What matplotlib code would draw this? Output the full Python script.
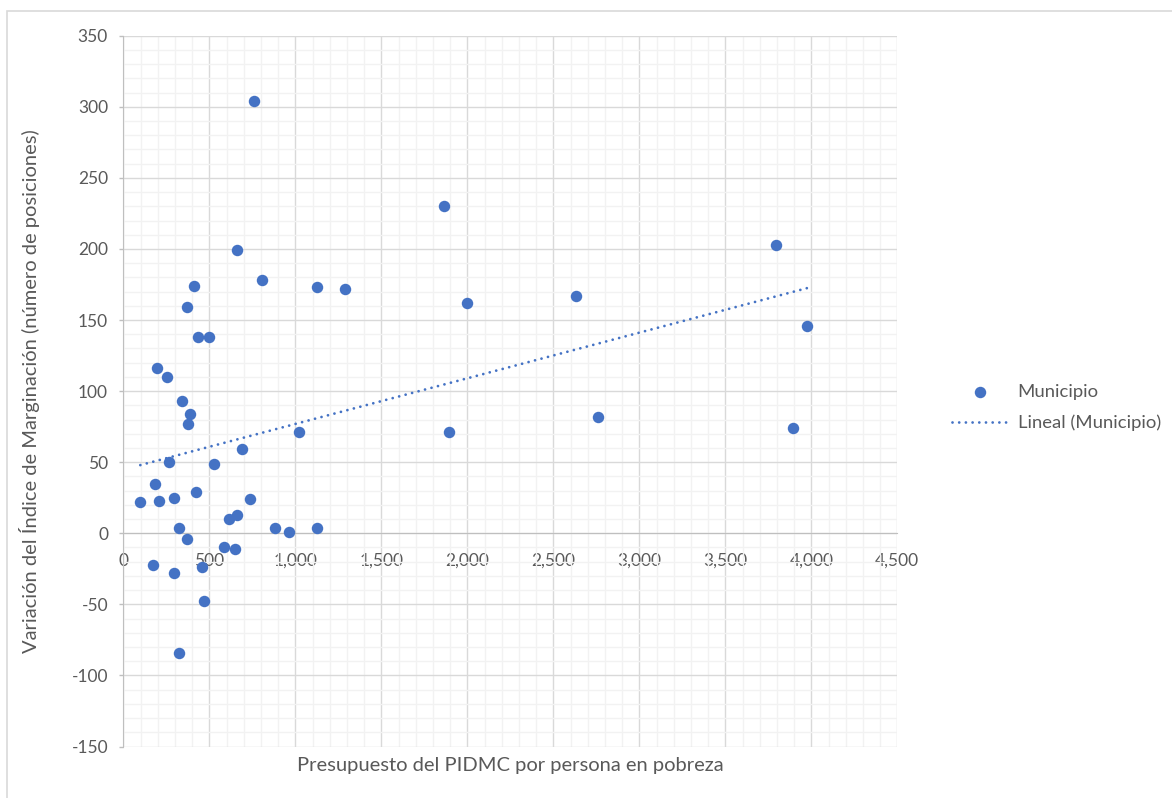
import numpy as np
import matplotlib
matplotlib.use("Agg")
import matplotlib.pyplot as plt
from matplotlib.ticker import MultipleLocator, FuncFormatter
from matplotlib.patches import Rectangle

plt.rcParams['font.family'] = ['Lato', 'DejaVu Sans']

# Data
presupuesto = [758, 1865, 3794, 659, 806, 409, 370, 1126, 1291, 2000,
               2630, 3977, 436, 498, 196, 254, 340, 388, 378, 2759,
               3892, 1020, 1894, 690, 264, 526, 186, 421, 99, 206,
               293, 738, 613, 663, 322, 884, 1126, 963, 370, 584,
               651, 174, 293, 458, 467, 322]
variacion = [304, 230, 203, 199, 178, 174, 159, 173, 172, 162,
             167, 146, 138, 138, 116, 110, 93, 84, 77, 82,
             74, 71, 71, 59, 50, 49, 35, 29, 22, 23,
             25, 24, 10, 13, 4, 4, 4, 1, -4, -10,
             -11, -22, -28, -24, -48, -84]
serie_nombre = "Municipio"
tendencia_nombre = "Lineal (Municipio)"
x_label = "Presupuesto del PIDMC por persona en pobreza"
y_label = "Variación del Índice de Marginación (número de posiciones)"

W, H = 1172, 798
fig = plt.figure(figsize=(W / 100, H / 100), dpi=100)
fig.patch.set_facecolor('white')

# outer chart border
fig.patches.append(Rectangle((7 / W, -0.05), 1.2, 1 - 11 / H + 0.05,
                             transform=fig.transFigure, fill=False,
                             edgecolor='#D9D9D9', linewidth=1.2))

left, right, top, bottom = 123.3, 897.3, 35.7, 746.5
ax = fig.add_axes([left / W, 1 - bottom / H, (right - left) / W, (bottom - top) / H])

blue = '#4472C4'
txt = '#595959'

x = np.array(presupuesto, dtype=float)
y = np.array(variacion, dtype=float)

ax.scatter(x, y, s=68, color=blue, zorder=3, label=serie_nombre, linewidths=0)

m, b = np.polyfit(x, y, 1)
xs = np.array([x.min(), x.max()])
ax.plot(xs, m * xs + b, color=blue, lw=2.0, linestyle=(0, (0.01, 2.4)),
        dash_capstyle='round', zorder=2, label=tendencia_nombre)

ax.set_xlim(0, 4500)
ax.set_ylim(-150, 350)
ax.xaxis.set_major_locator(MultipleLocator(500))
ax.xaxis.set_minor_locator(MultipleLocator(100))
ax.yaxis.set_major_locator(MultipleLocator(50))
ax.yaxis.set_minor_locator(MultipleLocator(10))
ax.xaxis.set_major_formatter(FuncFormatter(lambda v, p: f"{int(v):,}"))
ax.yaxis.set_major_formatter(FuncFormatter(lambda v, p: f"{int(v)}"))

ax.grid(which='minor', color='#F2F2F2', lw=1.0, zorder=0)
ax.grid(which='major', color='#D9D9D9', lw=1.0, zorder=1)
ax.set_axisbelow(True)

for s in ['top', 'right']:
    ax.spines[s].set_visible(False)
ax.spines['bottom'].set_position(('data', 0))
ax.spines['bottom'].set_color('#BFBFBF')
ax.spines['left'].set_color('#BFBFBF')

ax.tick_params(axis='x', which='both', length=0, pad=14, labelsize=12.5, labelcolor=txt)
ax.tick_params(axis='y', which='major', length=3, width=1, color='#BFBFBF',
               pad=8, labelsize=12.5, labelcolor=txt)
ax.tick_params(axis='y', which='minor', length=0)

ax.set_xlabel(x_label, fontsize=14.5, color=txt)
ax.xaxis.label.set_va('center')
ax.xaxis.set_label_coords(0.5, (bottom - 766) / (bottom - top))
ax.set_ylabel(y_label, fontsize=14.5, color=txt)
ax.yaxis.label.set_va('center')
ax.yaxis.set_label_coords((30 - left) / (right - left), 0.5)

leg = ax.legend(loc='center left', bbox_to_anchor=(952 / W, 1 - 407.5 / H),
                bbox_transform=fig.transFigure, frameon=False, fontsize=13.3,
                handlelength=3.0, handletextpad=0.55, labelspacing=0.8,
                borderpad=0, borderaxespad=0, labelcolor=txt)

fig.savefig('out.png', dpi=100)
